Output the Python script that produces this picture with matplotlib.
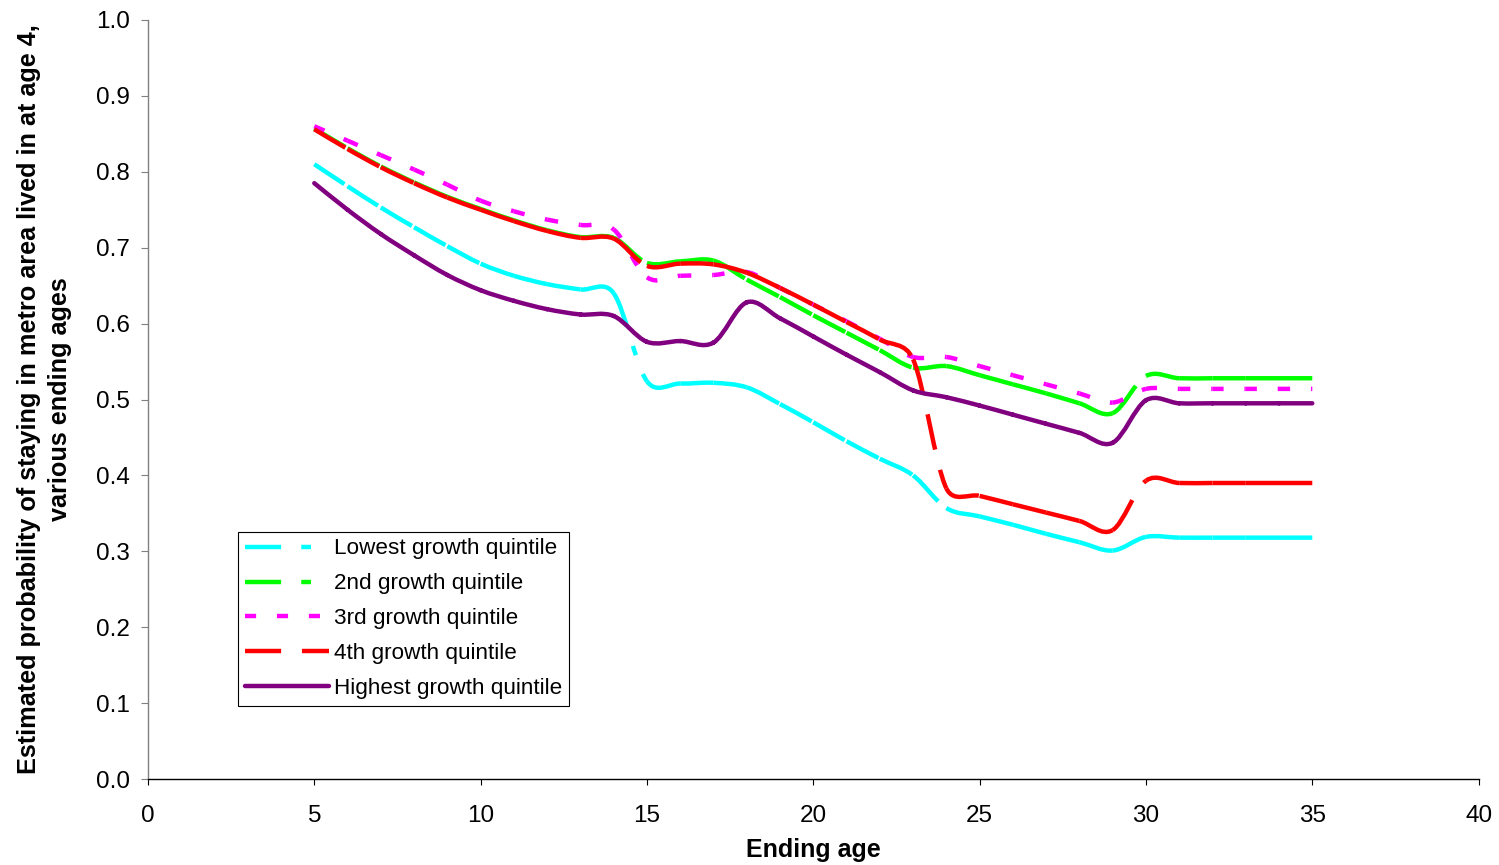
import matplotlib
matplotlib.use('Agg')
import matplotlib.pyplot as plt
from matplotlib.path import Path
from matplotlib.patches import PathPatch
from matplotlib.lines import Line2D
import numpy as np

# ending ages and estimated probabilities
ages = list(range(5, 36))

lowest = [0.810, 0.781, 0.753, 0.727, 0.702, 0.679, 0.663, 0.652, 0.645, 0.640,
          0.524, 0.521, 0.522, 0.516, 0.494, 0.470, 0.445, 0.422, 0.400, 0.357,
          0.346, 0.335, 0.323, 0.312, 0.301, 0.319, 0.318, 0.318, 0.318, 0.318, 0.318]

second = [0.857, 0.831, 0.807, 0.786, 0.767, 0.751, 0.736, 0.723, 0.714, 0.713,
          0.680, 0.682, 0.683, 0.658, 0.635, 0.611, 0.588, 0.565, 0.542, 0.544,
          0.532, 0.520, 0.508, 0.495, 0.482, 0.531, 0.528, 0.528, 0.528, 0.528, 0.528]

third = [0.860, 0.841, 0.822, 0.803, 0.783, 0.762, 0.748, 0.737, 0.730, 0.724,
         0.661, 0.663, 0.664, 0.668, 0.647, 0.625, 0.603, 0.580, 0.556, 0.556,
         0.544, 0.532, 0.520, 0.508, 0.496, 0.514, 0.514, 0.514, 0.514, 0.514, 0.514]

fourth = [0.856, 0.830, 0.806, 0.785, 0.766, 0.750, 0.735, 0.722, 0.713, 0.712,
          0.676, 0.679, 0.678, 0.667, 0.647, 0.625, 0.602, 0.579, 0.553, 0.383,
          0.373, 0.362, 0.351, 0.340, 0.328, 0.393, 0.390, 0.390, 0.390, 0.390, 0.390]

highest = [0.785, 0.750, 0.718, 0.690, 0.664, 0.644, 0.630, 0.619, 0.612, 0.610,
           0.576, 0.577, 0.575, 0.628, 0.607, 0.583, 0.559, 0.536, 0.512, 0.503,
           0.492, 0.480, 0.468, 0.456, 0.443, 0.499, 0.495, 0.495, 0.495, 0.495, 0.495]

labels = ['Lowest growth quintile', '2nd growth quintile', '3rd growth quintile',
          '4th growth quintile', 'Highest growth quintile']

plt.rcParams['font.family'] = ['Liberation Sans', 'DejaVu Sans']
plt.rcParams['lines.scale_dashes'] = False

LW = 3.2
long_dash_dot = (0, (26, 14.5, 7, 14.5))
long_dash = (0, (26, 15))
short_dash = (0, (8, 15))
styles = [('#00FFFF', long_dash_dot), ('#00FF00', long_dash_dot),
          ('#FF00FF', short_dash), ('#FF0000', long_dash), ('#800080', '-')]


def excel_segments(ax, xs, ys):
    # excel-like smoothed line: one cubic bezier per pair of points
    pts = ax.transData.transform(np.column_stack([xs, ys]))
    inv = ax.transData.inverted()
    n = len(pts)
    segs = []
    for i in range(n - 1):
        p0 = pts[max(i - 1, 0)]
        p1 = pts[i]
        p2 = pts[i + 1]
        p3 = pts[min(i + 2, n - 1)]
        d12 = np.hypot(*(p2 - p1))
        h1 = (p2 - p0) / 6.0
        h2 = (p3 - p1) / 6.0
        l1 = np.hypot(*h1)
        l2 = np.hypot(*h2)
        if l1 > d12 / 2:
            h1 = h1 * (d12 / 2) / l1
        if l2 > d12 / 2:
            h2 = h2 * (d12 / 2) / l2
        verts = inv.transform(np.array([p1, p1 + h1, p2 - h2, p2]))
        segs.append(Path(verts, [Path.MOVETO, Path.CURVE4, Path.CURVE4, Path.CURVE4]))
    return segs


fig = plt.figure(figsize=(14.99, 8.65), dpi=100)
ax = fig.add_axes([0.0987, 0.0994, 0.8877, 0.8775])
ax.set_xlim(0, 40)
ax.set_ylim(0, 1.0)

series = [lowest, second, third, fourth, highest]
handles = []
for vals, (col, ls), lab in zip(series, styles, labels):
    segs = excel_segments(ax, ages, vals)
    if ls == '-':
        full = Path.make_compound_path(*segs)
        ax.add_patch(PathPatch(full, fill=False, edgecolor=col, lw=LW,
                               capstyle='round', joinstyle='round'))
        handles.append(Line2D([], [], color=col, lw=LW, solid_capstyle='round'))
    else:
        for s in segs:
            ax.add_patch(PathPatch(s, fill=False, edgecolor=col, lw=LW,
                                   linestyle=ls, capstyle='butt', joinstyle='round'))
        handles.append(Line2D([], [], color=col, lw=LW, linestyle=ls,
                              dash_capstyle='butt'))

ax.set_xticks(range(0, 41, 5))
ax.set_yticks(np.arange(0, 1.01, 0.1))
ax.set_yticklabels(['%.1f' % v for v in np.arange(0, 1.01, 0.1)])

for side in ['top', 'right']:
    ax.spines[side].set_visible(False)
ax.spines['left'].set_color('#808080')
ax.spines['bottom'].set_color('black')
ax.spines['left'].set_linewidth(1.0)
ax.spines['bottom'].set_linewidth(1.0)
ax.tick_params(axis='y', direction='out', length=5, width=0.8, color='#808080',
               labelsize=17.5, pad=8)
ax.tick_params(axis='x', direction='out', length=4.5, width=0.8, color='black',
               labelsize=17.5, pad=14)

ax.set_xlabel('Ending age', fontsize=18, fontweight='bold', labelpad=8)
ax.set_ylabel('Estimated probability of staying in metro area lived in at age 4,\nvarious ending ages',
              fontsize=18.2, fontweight='bold', linespacing=1.35)
ax.yaxis.set_label_coords(-0.057, 0.5)

leg = ax.legend(handles, labels, loc='lower left', bbox_to_anchor=(0.0677, 0.0962),
                borderaxespad=0, fontsize=16.2, handlelength=3.74, handletextpad=0.23,
                labelspacing=0.62, borderpad=0.3, fancybox=False, framealpha=1)
leg.get_frame().set_edgecolor('black')
leg.get_frame().set_linewidth(0.8)

fig.savefig('out.png', dpi=100)
